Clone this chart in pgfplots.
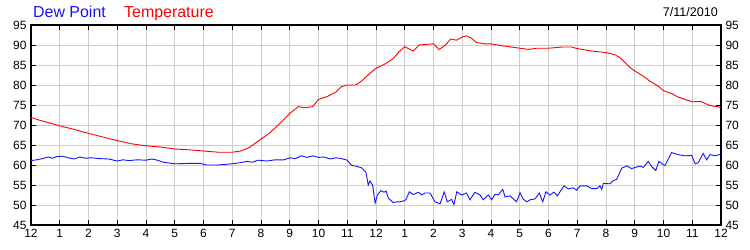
\documentclass[border=0pt]{standalone}
\usepackage{pgfplots}
\pgfplotsset{compat=1.18}
\usepackage{fontspec}
\setmainfont{Liberation Sans}
\definecolor{gridgray}{RGB}{204,204,204}
\definecolor{dewblue}{RGB}{20,20,255}
\definecolor{tempred}{RGB}{255,0,0}
\begin{document}
\begin{tikzpicture}
\pgfplotsset{
  base/.style={
    at={(0,0)}, anchor=south west,
    scale only axis, width=690bp, height=200bp,
    xmin=0, xmax=24, ymin=45, ymax=95,
    xtick={0,1,...,24}, ytick={45,50,...,95},
    /pgf/number format/assume math mode=true,
    tick align=inside, major tick length=5bp,
    tick style={black, line width=0.8bp},
    ticklabel style={font=\fontsize{12}{14}\selectfont},
  }
}
\begin{axis}[base,
  axis line style={black, line width=1.3bp},
  grid=major, grid style={gridgray, line width=0.8bp},
  xticklabels={12,1,2,3,4,5,6,7,8,9,10,11,12,1,2,3,4,5,6,7,8,9,10,11,12},
  yticklabel style={xshift=-1bp},
  xticklabel style={yshift=-1bp},
]
\addplot[tempred, line width=0.9bp] coordinates {
(0,71.9)(0.25,71.3)(0.5,70.8)(0.75,70.3)(1,69.8)(1.5,68.9)(2,67.9)(2.5,67.0)(3,66.1)(3.5,65.3)(4,64.8)(4.5,64.5)(5,64.0)(5.5,63.8)(6,63.5)(6.5,63.2)(7,63.2)(7.3,63.5)(7.6,64.4)(8,66.5)(8.3,68.0)(8.6,70.0)(9,72.9)(9.3,74.6)(9.5,74.3)(9.8,74.6)(10,76.4)(10.3,77.1)(10.6,78.2)(10.8,79.6)(11,80.0)(11.3,80.0)(11.5,81.0)(11.8,83.0)(12,84.2)(12.3,85.2)(12.6,86.6)(12.8,88.3)(13.0,89.6)(13.15,89.0)(13.3,88.5)(13.5,90.0)(14.0,90.3)(14.2,88.9)(14.4,89.9)(14.6,91.5)(14.8,91.2)(15.0,92.0)(15.15,92.3)(15.3,91.8)(15.5,90.6)(15.8,90.3)(16.0,90.3)(16.3,89.9)(16.5,89.7)(17,89.2)(17.3,88.9)(17.6,89.2)(18,89.2)(18.5,89.5)(18.8,89.5)(19,89.1)(19.5,88.5)(20,88.1)(20.3,87.6)(20.5,86.8)(20.8,84.6)(21.0,83.5)(21.3,82.2)(21.5,81.1)(21.8,79.8)(22,78.6)(22.3,77.8)(22.5,77.0)(23,75.8)(23.3,75.9)(23.6,74.9)(24,74.4)
};
\addplot[dewblue, line width=0.9bp] coordinates {
(0,61.1)(0.2,61.3)(0.4,61.6)(0.6,62.0)(0.75,61.7)(0.9,62.1)(1.1,62.2)(1.3,61.8)(1.5,61.5)(1.7,62.0)(1.9,61.7)(2.1,61.8)(2.4,61.6)(2.7,61.5)(3.0,61.0)(3.2,61.3)(3.4,61.1)(3.7,61.3)(4.0,61.2)(4.2,61.5)(4.4,61.2)(4.6,60.7)(5.0,60.3)(5.5,60.4)(5.9,60.4)(6.1,60.0)(6.5,60.0)(7.0,60.3)(7.3,60.6)(7.5,60.9)(7.7,60.7)(7.9,61.2)(8.2,61.0)(8.5,61.3)(8.8,61.3)(9.0,61.8)(9.2,61.6)(9.4,62.3)(9.6,61.9)(9.8,62.3)(10.0,61.9)(10.2,62.0)(10.4,61.5)(10.6,61.8)(10.8,61.6)(11.0,61.2)(11.15,59.9)(11.3,59.7)(11.5,59.3)(11.65,58.2)(11.73,55.0)(11.79,56.0)(11.88,55.0)(11.97,50.5)(12.05,52.5)(12.17,53.6)(12.28,53.2)(12.35,53.5)(12.43,51.7)(12.6,50.6)(12.72,50.8)(12.83,50.8)(12.95,51.0)(13.04,51.3)(13.16,53.3)(13.3,52.6)(13.47,53.2)(13.59,52.5)(13.7,53.0)(13.88,53.0)(14.05,50.8)(14.23,50.3)(14.37,53.3)(14.48,50.8)(14.63,51.4)(14.71,50.1)(14.81,53.3)(14.98,52.5)(15.15,53.0)(15.27,51.3)(15.44,53.2)(15.62,52.5)(15.73,51.3)(15.91,52.5)(16.02,51.3)(16.14,52.7)(16.25,52.5)(16.41,53.9)(16.49,52.0)(16.66,52.3)(16.78,51.5)(16.89,50.8)(17.01,53.1)(17.12,51.5)(17.24,50.8)(17.36,51.3)(17.53,51.5)(17.68,53.0)(17.8,50.8)(17.91,53.3)(18.05,52.5)(18.19,53.2)(18.31,52.3)(18.4,53.3)(18.54,54.8)(18.69,54.0)(18.86,54.3)(18.98,53.7)(19.1,54.8)(19.33,54.8)(19.5,54.1)(19.68,54.1)(19.79,54.8)(19.85,53.9)(19.91,55.4)(20.14,55.3)(20.25,56.1)(20.37,56.4)(20.55,59.2)(20.72,59.8)(20.89,59.1)(21.07,59.5)(21.18,59.7)(21.3,59.4)(21.47,60.9)(21.59,59.6)(21.73,58.6)(21.84,60.9)(22.05,59.8)(22.28,63.1)(22.51,62.6)(22.75,62.3)(22.98,62.4)(23.1,60.3)(23.21,60.6)(23.38,62.9)(23.5,61.3)(23.62,62.6)(23.79,62.3)(24,62.7)
};
\end{axis}
\begin{axis}[base,
  axis line style={draw=none},
  hide x axis,
  yticklabel pos=right,
  yticklabel style={xshift=1bp},
]
\addplot[draw=none] coordinates {(0,45)};
\end{axis}
\node[anchor=base west, inner sep=0pt, text=dewblue, font=\fontsize{16}{18}\selectfont] at (2bp,207.5bp) {Dew Point};
\node[anchor=base west, inner sep=0pt, text=tempred, font=\fontsize{16}{18}\selectfont] at (93bp,207.5bp) {Temperature};
\node[anchor=base east, inner sep=0pt, font=\fontsize{12.6}{14}\selectfont] at (687bp,208.3bp) {7/11/2010};
\pgfresetboundingbox
\useasboundingbox (-31bp,-25bp) rectangle (719bp,225bp);
\end{tikzpicture}
\end{document}
